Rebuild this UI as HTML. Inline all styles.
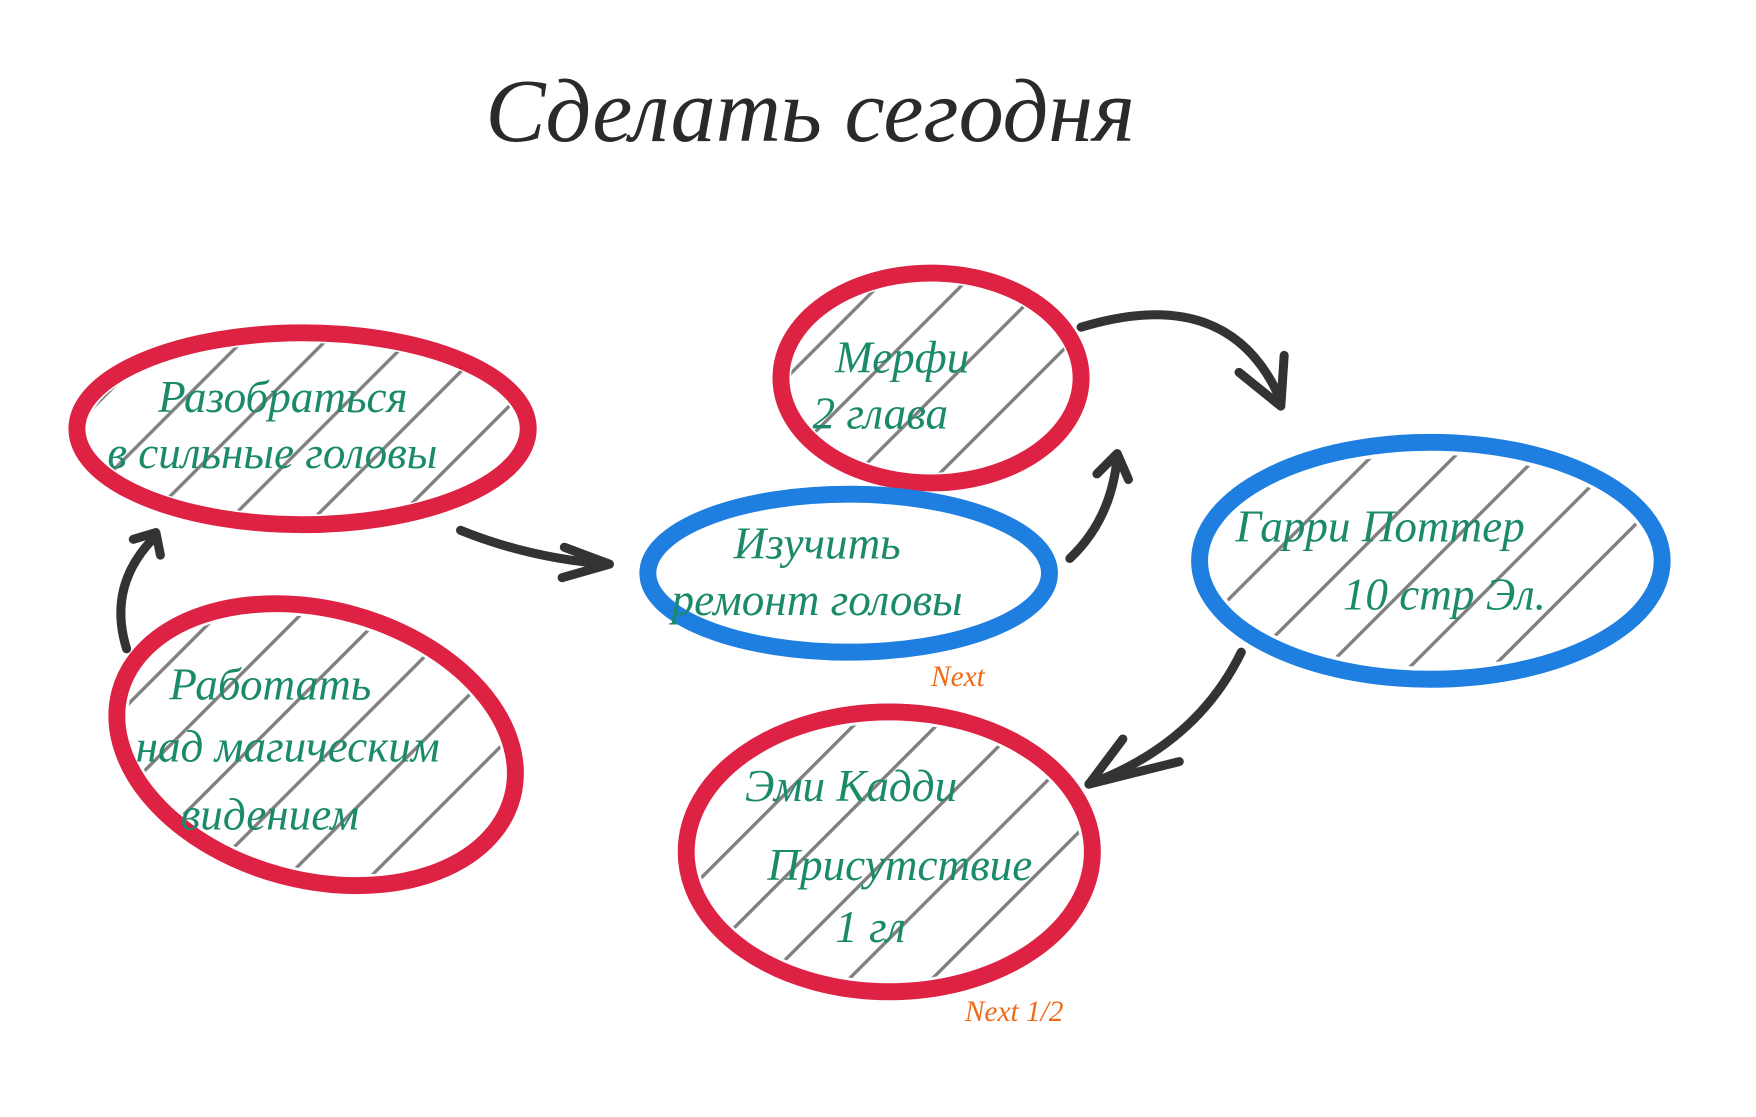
<!DOCTYPE html>
<html><head><meta charset="utf-8">
<style>
html,body{margin:0;padding:0;background:#fff;}
svg{display:block;}
.t{font-family:"Liberation Serif","DejaVu Serif",serif;font-style:italic;fill:#1a8a6a;}
</style></head>
<body>
<svg width="1756" height="1117" viewBox="0 0 1556 990" xmlns="http://www.w3.org/2000/svg">
<defs>
<clipPath id="c1"><ellipse cx="268" cy="380" rx="190" ry="76"/></clipPath>
<clipPath id="c2"><ellipse cx="825" cy="335" rx="124" ry="84"/></clipPath>
<clipPath id="c4"><ellipse cx="1268" cy="497" rx="194" ry="94"/></clipPath>
<clipPath id="c5"><ellipse cx="280" cy="660" rx="170" ry="110" transform="rotate(15 280 660)"/></clipPath>
<clipPath id="c6"><ellipse cx="788" cy="755" rx="170" ry="114"/></clipPath>
<pattern id="h" width="52" height="52" patternUnits="userSpaceOnUse" patternTransform="rotate(45)">
<line x1="0" y1="0" x2="0" y2="52" stroke="#808080" stroke-width="6"/>
</pattern>
</defs>
<text x="430" y="125" font-family="Liberation Serif,serif" font-style="italic" font-size="80" fill="#2a2a2a">Сделать сегодня</text>

<g clip-path="url(#c1)"><rect x="0" y="0" width="1556" height="990" fill="url(#h)"/></g>
<g clip-path="url(#c2)"><rect x="0" y="0" width="1556" height="990" fill="url(#h)"/></g>
<g clip-path="url(#c4)"><rect x="0" y="0" width="1556" height="990" fill="url(#h)"/></g>
<g clip-path="url(#c5)"><rect x="0" y="0" width="1556" height="990" fill="url(#h)"/></g>
<g clip-path="url(#c6)"><rect x="0" y="0" width="1556" height="990" fill="url(#h)"/></g>

<g fill="none" stroke-width="15">
<ellipse cx="268" cy="380" rx="200" ry="85" stroke="#dd2244"/>
<ellipse cx="825" cy="335" rx="133" ry="93" stroke="#dd2244"/>
<ellipse cx="752" cy="508" rx="178" ry="70" stroke="#1e7fe0"/>
<ellipse cx="1268" cy="497" rx="205" ry="105" stroke="#1e7fe0"/>
<ellipse cx="280" cy="660" rx="180" ry="120" stroke="#dd2244" transform="rotate(15 280 660)"/>
<ellipse cx="788" cy="755" rx="180" ry="124" stroke="#dd2244"/>
</g>

<g class="t">
<text x="140" y="365" font-size="40">Разобраться</text>
<text x="95" y="415" font-size="40">в сильные головы</text>
<text x="740" y="330" font-size="40">Мерфи</text>
<text x="720" y="380" font-size="40">2 глава</text>
<text x="650" y="495" font-size="40">Изучить</text>
<text x="595" y="545" font-size="40">ремонт головы</text>
<text x="1095" y="480" font-size="40">Гарри Поттер</text>
<text x="1190" y="540" font-size="40">10 стр Эл.</text>
<text x="150" y="620" font-size="40">Работать</text>
<text x="120" y="675" font-size="40">над магическим</text>
<text x="160" y="735" font-size="40">видением</text>
<text x="660" y="710" font-size="40">Эми Кадди</text>
<text x="680" y="780" font-size="40">Присутствие</text>
<text x="740" y="835" font-size="40">1 гл</text>
</g>
<text x="825" y="608" font-family="Liberation Serif,serif" font-style="italic" font-size="26" fill="#f06a1a">Next</text>
<text x="855" y="905" font-family="Liberation Serif,serif" font-style="italic" font-size="26" fill="#f06a1a">Next 1/2</text>

<g fill="none" stroke="#333" stroke-width="8" stroke-linecap="round" stroke-linejoin="round">
<path d="M112 575 Q95 520 135 478"/><path d="M118 478 L138 472 L142 492"/>
<path d="M408 470 Q470 495 538 500"/><path d="M500 485 L540 500 L498 512"/>
<path d="M948 495 Q985 460 990 405"/><path d="M972 420 L990 402 L1000 425"/>
<path d="M958 290 Q1090 250 1135 355"/><path d="M1098 330 L1135 360 L1138 315"/>
<path d="M1100 578 Q1060 660 965 695"/><path d="M995 655 L965 695 L1045 675"/>
</g>
</svg>
</body></html>
